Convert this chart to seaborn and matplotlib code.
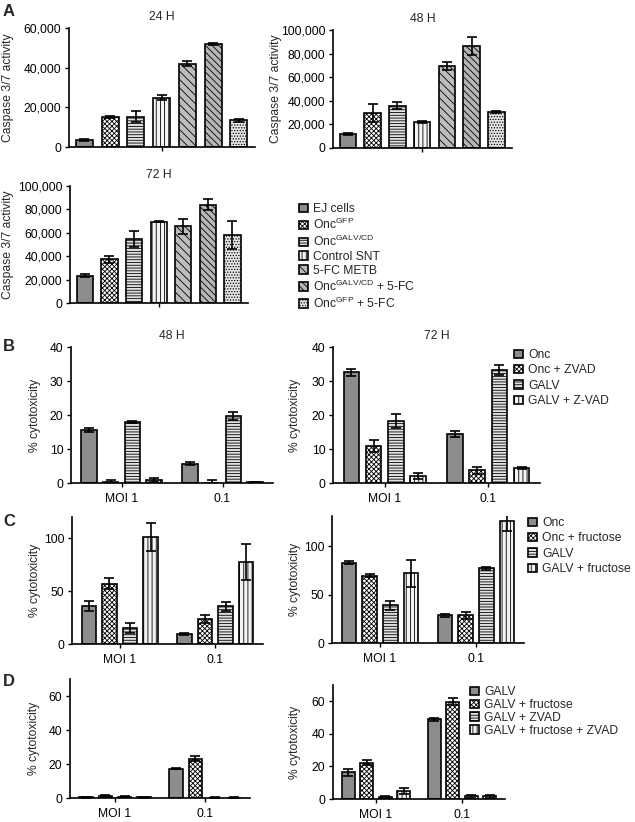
import matplotlib
matplotlib.use("Agg")
import matplotlib.pyplot as plt
from matplotlib.ticker import FuncFormatter
import pandas as pd
import seaborn as sns

# ---- data ----
a_conditions = [
    "EJ cells",
    "Onc$^{\\mathrm{GFP}}$",
    "Onc$^{\\mathrm{GALV/CD}}$",
    "Control SNT",
    "5-FC METB",
    "Onc$^{\\mathrm{GALV/CD}}$ + 5-FC",
    "Onc$^{\\mathrm{GFP}}$ + 5-FC",
]
a24_vals = [3700, 15100, 15300, 24900, 42000, 52100, 13400]
a24_err = [500, 700, 2700, 1300, 1400, 500, 700]
a48_vals = [11900, 29700, 36000, 22100, 69400, 86700, 30600]
a48_err = [800, 7700, 3100, 600, 3700, 7600, 1100]
a72_vals = [23200, 37400, 54700, 69400, 65400, 84100, 58100]
a72_err = [1400, 3100, 7100, 300, 6800, 4900, 12200]

groups = ["MOI 1", "0.1"]

# rows = treatment, columns = group (MOI 1, 0.1)
b_treatments = ["Onc", "Onc + ZVAD", "GALV", "GALV + Z-VAD"]
b48_vals = [[15.5, 5.7], [0.2, 0.1], [17.9, 19.7], [1.0, 0.3]]
b48_err = [[0.6, 0.5], [0.8, 0.9], [0.4, 1.1], [0.6, 0.1]]
b72_vals = [[32.5, 14.4], [10.8, 3.7], [18.3, 33.3], [2.0, 4.4]]
b72_err = [[1.0, 0.9], [1.7, 1.0], [2.0, 1.5], [0.8, 0.4]]

c_treatments = ["Onc", "Onc + fructose", "GALV", "GALV + fructose"]
c1_vals = [[35.5, 9.1], [57.0, 23.6], [14.8, 35.5], [101.0, 77.7]]
c1_err = [[4.7, 1.0], [5.0, 3.4], [4.7, 4.0], [13.5, 17.0]]
c2_vals = [[82.6, 28.7], [69.6, 28.7], [38.9, 77.1], [71.7, 126.0]]
c2_err = [[1.5, 1.5], [1.5, 3.7], [4.4, 1.3], [13.6, 10.0]]

d_treatments = ["GALV", "GALV + fructose", "GALV + ZVAD", "GALV + fructose + ZVAD"]
d1_vals = [[0.5, 17.2], [1.2, 23.2], [0.7, 0.2], [0.3, 0.2]]
d1_err = [[0.3, 0.2], [0.4, 1.5], [0.3, 0.1], [0.1, 0.1]]
d2_vals = [[16.3, 49.0], [22.4, 59.8], [1.4, 1.6], [4.9, 1.6]]
d2_err = [[2.0, 0.8], [1.8, 2.2], [0.6, 0.8], [1.8, 0.8]]

# ---- styles ----
fills = ["#8c8c8c", "#ffffff", "#e2e2e2", "#f4f4f4", "#bcbcbc", "#b6b6b6", "#e6e6e6"]
hatches = [None, "xxxxxxx", "------", "||||", "\\\\\\\\", "\\\\\\\\\\", "......"]

sns.set_style("ticks")
plt.rcParams["font.family"] = ["Liberation Sans", "DejaVu Sans"]
plt.rcParams["mathtext.fontset"] = "custom"
plt.rcParams["mathtext.rm"] = "Liberation Sans"
plt.rcParams["mathtext.it"] = "Liberation Sans:italic"
plt.rcParams["mathtext.bf"] = "Liberation Sans:bold"
plt.rcParams["hatch.linewidth"] = 0.6
plt.rcParams["font.size"] = 8.7

FS = 8.7
W, H = 635, 822
fig = plt.figure(figsize=(W / 100, H / 100), dpi=100)


def px_axes(x0, x1, y0, y1):
    # pixel box -> figure fraction
    return fig.add_axes([x0 / W, 1 - y1 / H, (x1 - x0) / W, (y1 - y0) / H])


def style_axis(ax, ylim, yticks, ylabel, label_x, fmt=None):
    ax.set_ylim(*ylim)
    ax.set_yticks(yticks)
    if fmt:
        ax.yaxis.set_major_formatter(FuncFormatter(fmt))
    ax.set_ylabel(ylabel, fontsize=FS)
    ax.yaxis.set_label_coords(label_x, 0.5)
    ax.set_xlabel("")
    for s in ["left", "bottom"]:
        ax.spines[s].set_linewidth(1.2)
        ax.spines[s].set_color("black")
    sns.despine(ax=ax)
    ax.tick_params(axis="y", length=3, width=1, pad=2.5, labelsize=FS, colors="black")
    ax.tick_params(axis="x", length=3, width=1, pad=4.5, labelsize=FS, colors="black")


def apply_hatch(conts):
    for i, cont in enumerate(conts):
        for b in cont:
            b.set_hatch(hatches[i])


def add_errors(ax, containers, errs):
    for cont, err in zip(containers, errs):
        xs = [b.get_x() + b.get_width() / 2 for b in cont]
        ys = [b.get_height() for b in cont]
        ax.errorbar(xs, ys, yerr=err, fmt="none", ecolor="black",
                    elinewidth=1.2, capsize=3.3, capthick=1.2, zorder=4)


def caspase_panel(ax, vals, errs, title, ymax, label_x):
    df = pd.DataFrame({"cond": a_conditions, "value": vals})
    sns.barplot(data=df, x="cond", y="value", hue="cond", order=a_conditions,
                hue_order=a_conditions, palette=fills, width=0.66,
                edgecolor="black", linewidth=1.2, errorbar=None,
                legend=False, ax=ax)
    conts = list(ax.containers)
    apply_hatch(conts)
    add_errors(ax, conts, [[e] for e in errs])
    ax.set_xlim(-0.6, 6.63)
    ax.set_xticks([3])
    ax.set_xticklabels([])
    ax.set_title(title, fontsize=FS, pad=6)
    style_axis(ax, (0, ymax), range(0, ymax + 1, 20000), "Caspase 3/7 activity",
               label_x, fmt=lambda v, _: f"{int(v):,}")
    return conts


def grouped_panel(ax, treatments, vals, errs, ylim, yticks, label_x, title=None):
    rows = []
    for i, t in enumerate(treatments):
        for j, g in enumerate(groups):
            rows.append({"group": g, "treatment": t, "value": vals[i][j]})
    df = pd.DataFrame(rows)
    sns.barplot(data=df, x="group", y="value", hue="treatment", order=groups,
                hue_order=treatments, palette=fills[:4], width=0.86, gap=0.3,
                edgecolor="black", linewidth=1.2, errorbar=None,
                legend=False, ax=ax)
    conts = list(ax.containers)
    apply_hatch(conts)
    add_errors(ax, conts, errs)
    ax.set_xlim(-0.5, 1.5)
    if title:
        ax.set_title(title, fontsize=FS, pad=6)
    style_axis(ax, ylim, yticks, "% cytotoxicity", label_x)
    return conts


def add_legend(conts, labels, x, y, spacing):
    fig.legend(handles=[c[0] for c in conts], labels=labels, loc="upper left",
               bbox_to_anchor=(x / W, 1 - y / H), frameon=False, borderpad=0,
               borderaxespad=0, handlelength=0.75, handleheight=0.7,
               handletextpad=0.4, labelspacing=spacing, fontsize=FS)


# ---- A ----
ax_a1 = px_axes(69, 255, 28, 147)
caspase_panel(ax_a1, a24_vals, a24_err, "24 H", 60000, -0.296)
ax_a2 = px_axes(333, 512, 30, 148)
caspase_panel(ax_a2, a48_vals, a48_err, "48 H", 100000, -0.285)
ax_a3 = px_axes(70, 248, 186, 303)
a_conts = caspase_panel(ax_a3, a72_vals, a72_err, "72 H", 100000, -0.315)
add_legend(a_conts, a_conditions, 299, 203, 0.15)

# ---- B ----
ax_b1 = px_axes(71, 273, 347, 483)
grouped_panel(ax_b1, b_treatments, b48_vals, b48_err, (0, 40), range(0, 41, 10), -0.149, "48 H")
ax_b2 = px_axes(333, 540, 347, 483)
b_conts = grouped_panel(ax_b2, b_treatments, b72_vals, b72_err, (0, 40), range(0, 41, 10), -0.155, "72 H")
add_legend(b_conts, b_treatments, 514, 349, 0.28)

# ---- C ----
ax_c1 = px_axes(72, 263, 517, 644)
grouped_panel(ax_c1, c_treatments, c1_vals, c1_err, (0, 120), [0, 50, 100], -0.162)
ax_c2 = px_axes(332, 524, 516, 643)
c_conts = grouped_panel(ax_c2, c_treatments, c2_vals, c2_err, (0, 131), [0, 50, 100], -0.161)
add_legend(c_conts, c_treatments, 528, 517, 0.28)

# ---- D ----
ax_d1 = px_axes(70, 250, 679, 798)
grouped_panel(ax_d1, d_treatments, d1_vals, d1_err, (0, 70), range(0, 61, 20), -0.167)
ax_d2 = px_axes(333, 505, 685, 799)
d_conts = grouped_panel(ax_d2, d_treatments, d2_vals, d2_err, (0, 70), range(0, 61, 20), -0.186)
add_legend(d_conts, d_treatments, 470, 686, 0.08)

# panel letters
for letter, y in [("A", 11), ("B", 346), ("C", 522), ("D", 681)]:
    fig.text(3 / W, 1 - y / H, letter, fontsize=12, fontweight="bold", va="center", ha="left")

fig.savefig("out.png", dpi=100)
